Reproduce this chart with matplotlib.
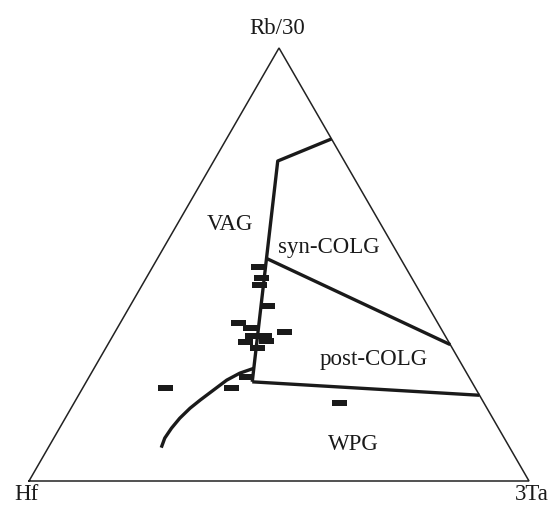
import numpy as np
import matplotlib
matplotlib.use("Agg")
import matplotlib.pyplot as plt
from matplotlib.path import Path

# ---- data (percent: Hf, Rb/30, 3Ta) ----
sample_hf = [29.5, 30.2, 31.4, 32.2, 39.9, 38.2, 31.7, 38.7, 36.2, 36.4, 40.8, 39.0, 44.6, 48.8, 62.1, 28.9]
sample_rb = [49.4, 46.9, 45.3, 40.4, 36.5, 35.3, 34.4, 33.5, 33.6, 32.3, 32.1, 30.7, 24.0, 21.5, 21.5, 18.0]
sample_ta = [21.1, 22.9, 23.3, 27.4, 23.6, 26.5, 33.9, 27.8, 30.2, 31.3, 27.1, 30.3, 31.4, 29.7, 16.4, 53.1]

# field boundaries (Hf, Rb/30, 3Ta)
vag_syn_hf = [0.0, 13.3, 26.8, 43.9]
vag_syn_rb = [79.0, 73.9, 51.4, 22.9]
vag_syn_ta = [21.0, 12.8, 21.8, 33.2]

syn_post_hf = [26.8, 0.0]
syn_post_rb = [51.4, 31.5]
syn_post_ta = [21.8, 68.5]

post_wpg_hf = [43.9, 0.0]
post_wpg_rb = [22.9, 19.8]
post_wpg_ta = [33.2, 80.2]

vag_wpg_hf = [42.1, 45.4, 48.8, 52.6, 56.4, 59.4, 62.6, 65.4, 67.9, 69.7]
vag_wpg_rb = [26.0, 24.9, 23.3, 21.0, 18.7, 16.8, 14.5, 12.2, 9.9, 7.7]
vag_wpg_ta = [31.9, 29.7, 27.9, 26.4, 24.9, 23.8, 22.9, 22.4, 22.2, 22.6]

apex_labels = ["Hf", "3Ta", "Rb/30"]
field_labels = ["VAG", "syn-COLG", "post-COLG", "WPG"]


def to_xy(hf, rb, ta):
    hf, rb, ta = (np.asarray(v, float) for v in (hf, rb, ta))
    s = hf + rb + ta
    rb, ta = rb / s, ta / s
    return ta + rb / 2.0, rb * np.sqrt(3) / 2.0


plt.rcParams['font.family'] = ['Liberation Serif', 'DejaVu Serif']

fig = plt.figure(figsize=(5.55, 5.08), dpi=100)
ax = fig.add_axes([0, 0, 1, 1])
ax.set_xlim(-0.058, 1.052)
ax.set_ylim(-0.054, 0.962)
ax.axis('off')

# triangle frame
tx, ty = to_xy([100, 0, 0, 100], [0, 0, 100, 0], [0, 100, 0, 0])
ax.plot(tx, ty, color='#222222', lw=1.1, solid_joinstyle='miter')

lw_b = 2.4
for h, r, t in [(vag_syn_hf, vag_syn_rb, vag_syn_ta),
                (syn_post_hf, syn_post_rb, syn_post_ta),
                (post_wpg_hf, post_wpg_rb, post_wpg_ta),
                (vag_wpg_hf, vag_wpg_rb, vag_wpg_ta)]:
    x, y = to_xy(h, r, t)
    ax.plot(x, y, color='#1a1a1a', lw=lw_b, solid_capstyle='butt')

# dash markers
dash = Path([(-1, -0.42), (1, -0.42), (1, 0.42), (-1, 0.42), (-1, -0.42)],
            [Path.MOVETO, Path.LINETO, Path.LINETO, Path.LINETO, Path.CLOSEPOLY])
sx, sy = to_xy(sample_hf, sample_rb, sample_ta)
ax.plot(sx, sy, ls='none', marker=dash, markersize=10.8, color='#1a1a1a',
        markeredgewidth=0)

fs = 16.5
ax.text(0.496, 0.895, apex_labels[2], ha='center', va='baseline', fontsize=fs, color='#1a1a1a')
ax.text(-0.005, -0.039, apex_labels[0], ha='center', va='baseline', fontsize=fs, color='#1a1a1a')
ax.text(1.006, -0.039, apex_labels[1], ha='center', va='baseline', fontsize=fs, color='#1a1a1a')

ax.text(0.402, 0.503, field_labels[0], ha='center', va='baseline', fontsize=fs, color='#1a1a1a')
ax.text(0.599, 0.455, field_labels[1], ha='center', va='baseline', fontsize=fs, color='#1a1a1a')
ax.text(0.689, 0.232, field_labels[2], ha='center', va='baseline', fontsize=fs, color='#1a1a1a')
ax.text(0.649, 0.062, field_labels[3], ha='center', va='baseline', fontsize=fs, color='#1a1a1a')

fig.savefig('out.png', dpi=100, facecolor='white')
